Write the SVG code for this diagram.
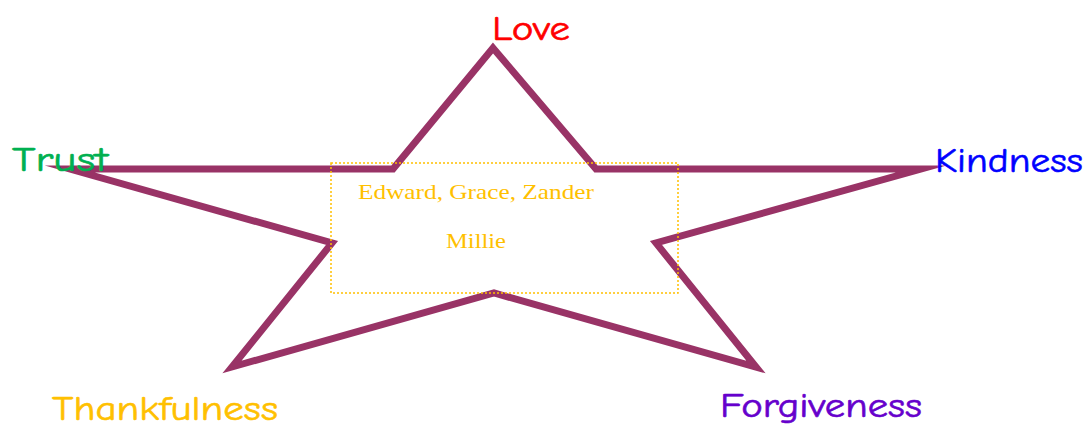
<svg xmlns="http://www.w3.org/2000/svg" width="1089" height="428" viewBox="0 0 1089 428">
<style>
.lbl{font-family:"Comic Sans MS","Comic Neue","Liberation Sans",sans-serif;font-size:34px;stroke-width:0.6}
.nm{font-family:"Tempus Sans ITC","Liberation Serif",serif;font-size:21px;fill:#FFC000;text-anchor:middle}
</style>
<rect width="1089" height="428" fill="#FFFFFF"/>
<g id="connectors">
<polygon id="star" points="493,48 596,169 921,169 656,243 756,367 494,293 232,367 332,243 70,169 393,169" fill="none" stroke="#993366" stroke-width="7" stroke-linejoin="miter" stroke-miterlimit="10"/>
</g>
<g id="center">
<rect x="331" y="163" width="347" height="130" fill="none" stroke="#FFC000" stroke-width="1.5" stroke-dasharray="2,2"/>
<text class="nm" x="476" y="199" textLength="236" lengthAdjust="spacingAndGlyphs">Edward, Grace, Zander</text>
<text class="nm" x="476" y="248" textLength="60" lengthAdjust="spacingAndGlyphs">Millie</text>
</g>
<g id="love"><text class="lbl" x="492" y="40" fill="#FF0000" stroke="#FF0000" textLength="78" lengthAdjust="spacingAndGlyphs">Love</text></g>
<g id="trust"><text class="lbl" x="12" y="171" fill="#00B050" stroke="#00B050" textLength="96" lengthAdjust="spacingAndGlyphs">Trust</text></g>
<g id="kindness"><text class="lbl" x="935" y="172" fill="#0000FF" stroke="#0000FF" textLength="148" lengthAdjust="spacingAndGlyphs">Kindness</text></g>
<g id="thankfulness"><text class="lbl" x="52" y="420" fill="#FFC000" stroke="#FFC000" textLength="226" lengthAdjust="spacingAndGlyphs">Thankfulness</text></g>
<g id="forgiveness"><text class="lbl" x="720" y="417" fill="#6600CC" stroke="#6600CC" textLength="202" lengthAdjust="spacingAndGlyphs">Forgiveness</text></g>
</svg>
